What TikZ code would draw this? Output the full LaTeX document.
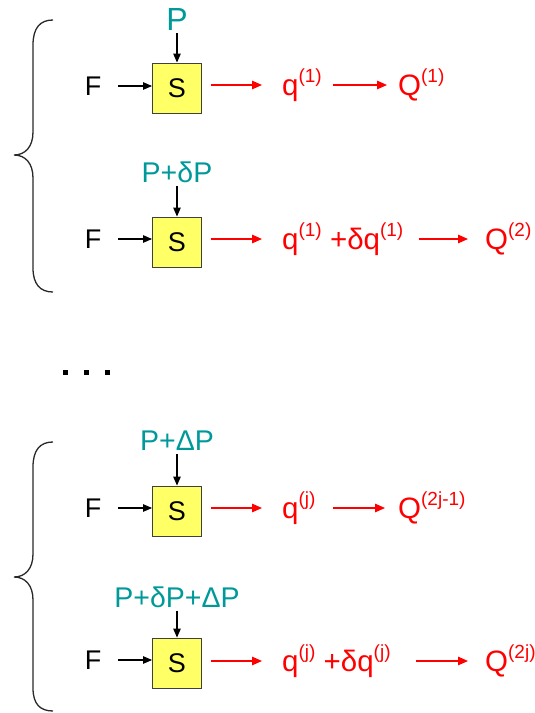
\documentclass[tikz,border=0pt]{standalone}
\usepackage{fontspec}
\setmainfont{Liberation Sans}
\usetikzlibrary{arrows.meta}
\definecolor{pteal}{RGB}{0,153,153}
\definecolor{boxyellow}{RGB}{255,255,102}
\definecolor{bracegray}{RGB}{40,40,40}
% raised, smaller index such as (1) or (2j-1)
\newcommand\upidx[1]{\raisebox{0.42em}{\fontsize{19}{19}\selectfont #1}}
\begin{document}
\begin{tikzpicture}[x=1pt,y=-1pt,
  stage/.style={draw=black!75, line width=0.9pt, fill=boxyellow, minimum width=49pt,
    minimum height=50pt, inner sep=0pt, font=\fontsize{27}{27}\selectfont},
  inlab/.style={inner sep=0pt, font=\fontsize{27}{27}\selectfont},
  plab/.style={inner sep=0pt, text=pteal, font=\fontsize{28.5}{28.5}\selectfont},
  outlab/.style={inner sep=0pt, anchor=west, text=red, font=\fontsize{29.5}{29.5}\selectfont},
  blkarrow/.style={draw=black, line width=1.1pt, -{Triangle[length=9pt,width=7.5pt]}},
  redarrow/.style={draw=red, line width=1.4pt, -{Triangle[length=10pt,width=8.5pt]}},
  curly/.style={draw=bracegray, line width=1.3pt},
  dotmark/.style={fill=black, minimum size=5pt, inner sep=0pt}]
\useasboundingbox (0,0) rectangle (535,713);

% ---- first group ----
\draw[curly] (53,20) .. controls (40,20) and (33,28) .. (33,45) -- (33,132)
  .. controls (33,147) and (25,155) .. (14,155)
  .. controls (25,155) and (33,163) .. (33,178) -- (33,268)
  .. controls (33,284) and (40,292) .. (53,292);

\node[stage] (sA) at (177,88) {S};
\node[inlab] (fA) at (93,86) {F};
\node[plab, font=\fontsize{32}{32}\selectfont] (pA) at (177,19) {P};
\node[outlab] (qA) at (282,85) {q\upidx{(1)}};
\node[outlab] (QA) at (398,85) {Q\upidx{(1)}};
\draw[blkarrow, shorten <=17pt] (fA.east) -- (fA.east -| sA.west);
\draw[blkarrow, shorten <=3pt] (pA.south) -- (sA.north);
\draw[redarrow, shorten <=9pt, shorten >=20pt] (sA.east |- qA.west) -- (qA.west);
\draw[redarrow, shorten <=11pt, shorten >=11pt] (qA.east) -- (qA.east -| QA.west);

\node[stage] (sB) at (177,242) {S};
\node[inlab] (fB) at (93,239) {F};
\node[plab] (pB) at (177,172) {P+δP};
\node[outlab] (qB) at (282,239) {q\upidx{(1)} +δq\upidx{(1)}};
\node[outlab] (QB) at (485,239) {Q\upidx{(2)}};
\draw[blkarrow, shorten <=17pt] (fB.east) -- (fB.east -| sB.west);
\draw[blkarrow, shorten <=3pt] (pB.south) -- (sB.north);
\draw[redarrow, shorten <=9pt, shorten >=20pt] (sB.east |- qB.west) -- (qB.west);
\draw[redarrow, shorten <=15pt, shorten >=17pt] (qB.east) -- (qB.east -| QB.west);

% ---- continuation dots ----
\node[dotmark] (d1) at (65,372) {};
\node[dotmark] (d2) at (86,372) {};
\node[dotmark] (d3) at (107,372) {};

% ---- second group ----
\draw[curly] (53,442) .. controls (40,442) and (33,450) .. (33,467) -- (33,554)
  .. controls (33,569) and (25,577) .. (14,577)
  .. controls (25,577) and (33,585) .. (33,600) -- (33,688)
  .. controls (33,704) and (40,711) .. (53,711);

\node[stage] (sC) at (177,511) {S};
\node[inlab] (fC) at (93,508) {F};
\node[plab] (pC) at (177,441) {P+ΔP};
\node[outlab] (qC) at (282,508) {q\upidx{(j)}};
\node[outlab] (QC) at (398,508) {Q\upidx{(2j-1)}};
\draw[blkarrow, shorten <=17pt] (fC.east) -- (fC.east -| sC.west);
\draw[blkarrow, shorten <=3pt] (pC.south) -- (sC.north);
\draw[redarrow, shorten <=9pt, shorten >=20pt] (sC.east |- qC.west) -- (qC.west);
\draw[redarrow, shorten <=17pt, shorten >=13pt] (qC.east) -- (qC.east -| QC.west);

\node[stage] (sD) at (177,663) {S};
\node[inlab] (fD) at (93,660) {F};
\node[plab] (pD) at (177,597) {P+δP+ΔP};
\node[outlab] (qD) at (282,661) {q\upidx{(j)} +δq\upidx{(j)}};
\node[outlab] (QD) at (485,661) {Q\upidx{(2j)}};
\draw[blkarrow, shorten <=17pt] (fD.east) -- (fD.east -| sD.west);
\draw[blkarrow, shorten <=3pt] (pD.south) -- (sD.north);
\draw[redarrow, shorten <=9pt, shorten >=20pt] (sD.east |- qD.west) -- (qD.west);
\draw[redarrow, shorten <=25pt, shorten >=17pt] (qD.east) -- (qD.east -| QD.west);
\end{tikzpicture}
\end{document}
